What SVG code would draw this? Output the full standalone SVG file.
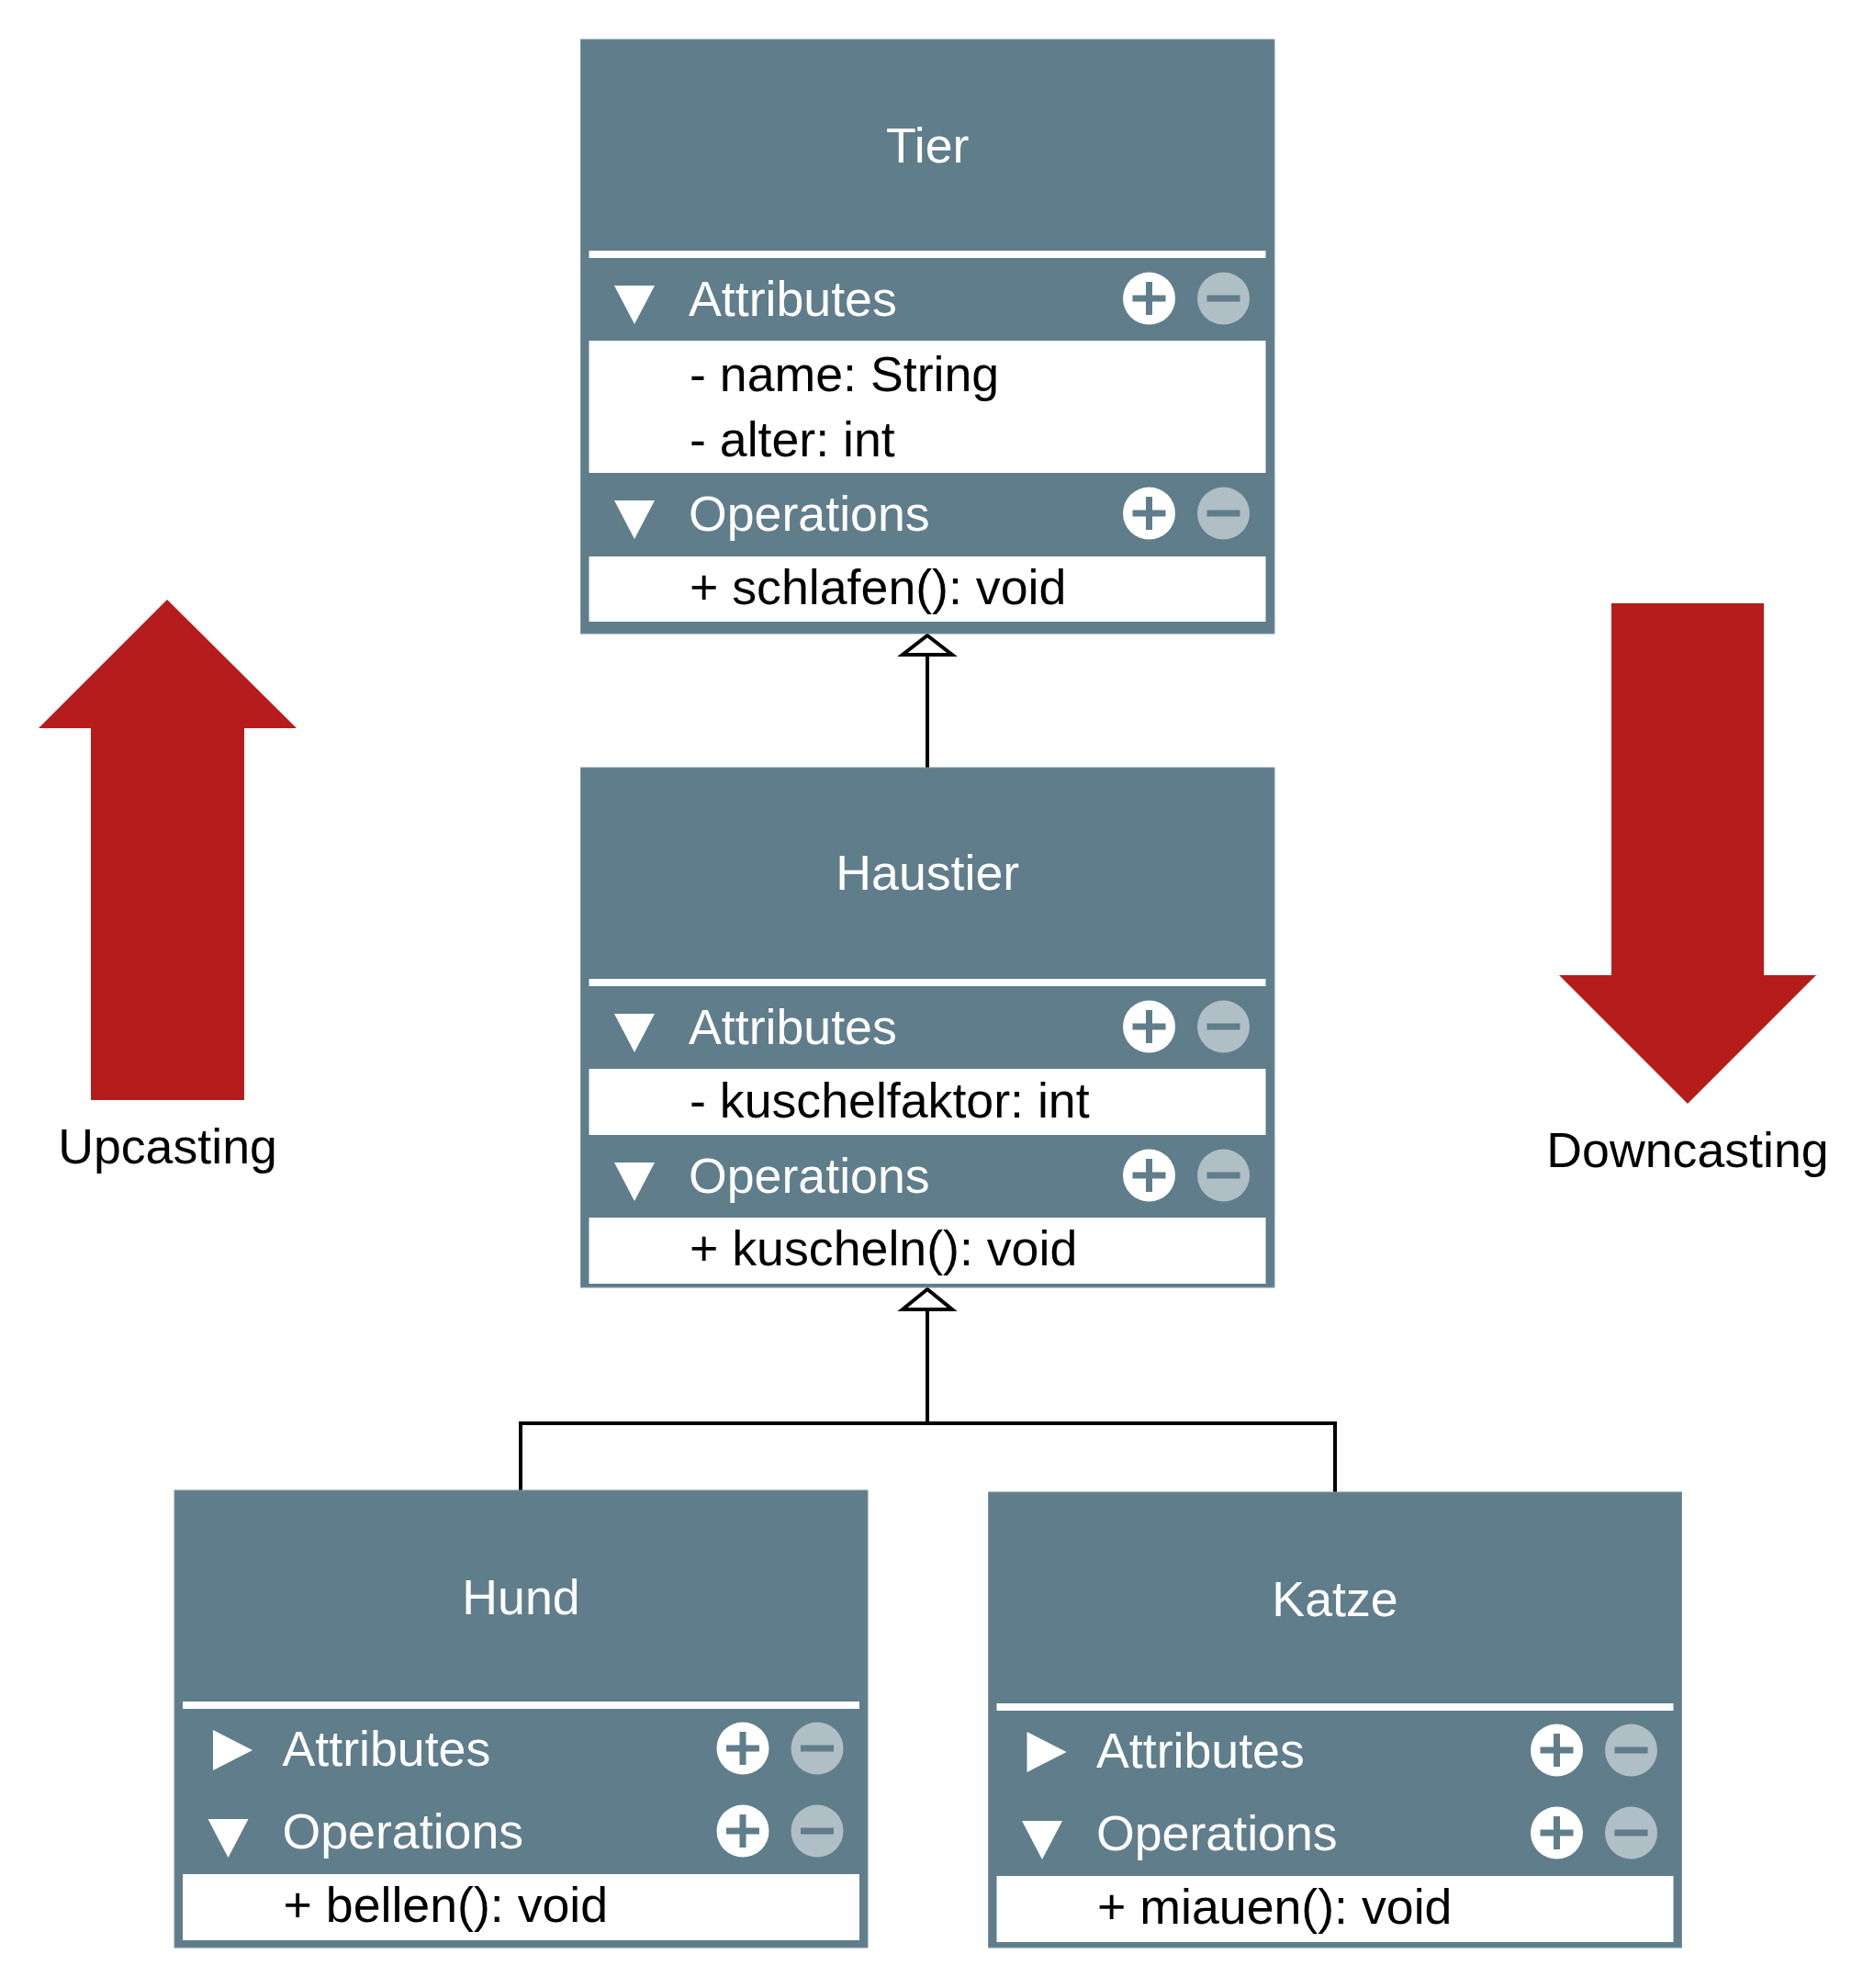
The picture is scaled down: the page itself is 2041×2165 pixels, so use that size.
<svg xmlns="http://www.w3.org/2000/svg" width="2041" height="2165" viewBox="0 0 2041 2165">
  <defs>
    <style>
      .box { fill: #607D8B; stroke: #7b939e; stroke-width: 1; }
      .sep { fill: #FFFFFF; }
      .white { fill: #FFFFFF; }
      .title { font-family: "Liberation Sans", Arial, sans-serif; font-size: 53.7px; fill: #FFFFFF; text-anchor: middle; }
      .sec { font-family: "Liberation Sans", Arial, sans-serif; font-size: 53.7px; fill: #FFFFFF; }
      .item { font-family: "Liberation Sans", Arial, sans-serif; font-size: 53.7px; fill: #000000; }
      .lbl { font-family: "Liberation Sans", Arial, sans-serif; font-size: 53.7px; fill: #000000; text-anchor: middle; }
      .tri { fill: #FFFFFF; }
      .plusc { fill: #FFFFFF; }
      .minusc { fill: #B0BEC5; }
      .bar { fill: #607D8B; }
      .edge { fill: none; stroke: #000000; stroke-width: 4; }
      .head { fill: #FFFFFF; stroke: #000000; stroke-width: 4; stroke-linejoin: miter; }
      .big { fill: #B71C1C; }
    </style>
    <g id="plus">
      <circle cx="0" cy="0" r="28.5" class="plusc"/>
      <rect x="-18" y="-3.5" width="36" height="7" class="bar"/>
      <rect x="-3.5" y="-18" width="7" height="36" class="bar"/>
    </g>
    <g id="minus">
      <circle cx="0" cy="0" r="28.5" class="minusc"/>
      <rect x="-18" y="-3.5" width="36" height="7" class="bar"/>
    </g>
    <polygon id="tdown" points="36.5,-15 80.5,-15 58.5,27" class="tri"/>
    <polygon id="tright" points="42,-22 42,22 85,0" class="tri"/>
  </defs>

  <!-- Upcasting / Downcasting arrows -->
  <g id="upcasting">
    <polygon class="big" points="182,653 323,793 266,793 266,1198 99,1198 99,793 42,793"/>
    <text class="lbl" x="182.5" y="1267">Upcasting</text>
  </g>
  <g id="downcasting">
    <polygon class="big" points="1755,657 1921,657 1921,1062 1978,1062 1838,1202 1698,1062 1755,1062"/>
    <text class="lbl" x="1838" y="1271">Downcasting</text>
  </g>

  <!-- Connectors -->
  <g id="connectors">
    <line class="edge" x1="1010" y1="713" x2="1010" y2="836"/>
    <polygon class="head" points="1010,692 1037,713 983,713"/>
    <polyline class="edge" points="567,1623 567,1550 1454,1550 1454,1625"/>
    <line class="edge" x1="1010" y1="1426" x2="1010" y2="1550"/>
    <polygon class="head" points="1010,1404 1037,1426 983,1426"/>
  </g>

  <!-- Tier -->
  <g id="tier" transform="translate(632.5,43)">
    <rect class="box" x="0" y="0" width="755.5" height="647"/>
    <text class="title" x="377.75" y="134">Tier</text>
    <rect class="sep" x="9" y="230" width="737" height="8"/>
    <use href="#tdown" y="283"/>
    <text class="sec" x="117.5" y="301">Attributes</text>
    <use href="#plus" x="619" y="282"/>
    <use href="#minus" x="700" y="282"/>
    <rect class="white" x="9" y="328" width="737" height="144"/>
    <text class="item" x="118.5" y="383">- name: String</text>
    <text class="item" x="118.5" y="454">- alter: int</text>
    <use href="#tdown" y="517"/>
    <text class="sec" x="117.5" y="535">Operations</text>
    <use href="#plus" x="619" y="516"/>
    <use href="#minus" x="700" y="516"/>
    <rect class="white" x="9" y="563" width="737" height="71"/>
    <text class="item" x="118.5" y="615">+ schlafen(): void</text>
  </g>

  <!-- Haustier -->
  <g id="haustier" transform="translate(632.5,836)">
    <rect class="box" x="0" y="0" width="755.5" height="566"/>
    <text class="title" x="377.75" y="133">Haustier</text>
    <rect class="sep" x="9" y="230" width="737" height="8"/>
    <use href="#tdown" y="283"/>
    <text class="sec" x="117.5" y="301">Attributes</text>
    <use href="#plus" x="619" y="282"/>
    <use href="#minus" x="700" y="282"/>
    <rect class="white" x="9" y="328" width="737" height="72"/>
    <text class="item" x="118.5" y="381">- kuschelfaktor: int</text>
    <use href="#tdown" y="445"/>
    <text class="sec" x="117.5" y="463">Operations</text>
    <use href="#plus" x="619" y="444"/>
    <use href="#minus" x="700" y="444"/>
    <rect class="white" x="9" y="490" width="737" height="72"/>
    <text class="item" x="118.5" y="542">+ kuscheln(): void</text>
  </g>

  <!-- Hund -->
  <g id="hund" transform="translate(190,1623)">
    <rect class="box" x="0" y="0" width="755" height="498"/>
    <text class="title" x="377.5" y="135">Hund</text>
    <rect class="sep" x="9" y="230" width="737" height="8"/>
    <use href="#tright" y="283"/>
    <text class="sec" x="117.5" y="300">Attributes</text>
    <use href="#plus" x="619" y="281"/>
    <use href="#minus" x="700" y="281"/>
    <use href="#tdown" y="373"/>
    <text class="sec" x="117.5" y="390">Operations</text>
    <use href="#plus" x="619" y="371"/>
    <use href="#minus" x="700" y="371"/>
    <rect class="white" x="9" y="418" width="737" height="72"/>
    <text class="item" x="118.5" y="470">+ bellen(): void</text>
  </g>

  <!-- Katze -->
  <g id="katze" transform="translate(1076.5,1625)">
    <rect class="box" x="0" y="0" width="755" height="496"/>
    <text class="title" x="377.5" y="135">Katze</text>
    <rect class="sep" x="9" y="230" width="737" height="8"/>
    <use href="#tright" y="283"/>
    <text class="sec" x="117.5" y="300">Attributes</text>
    <use href="#plus" x="619" y="281"/>
    <use href="#minus" x="700" y="281"/>
    <use href="#tdown" y="373"/>
    <text class="sec" x="117.5" y="390">Operations</text>
    <use href="#plus" x="619" y="371"/>
    <use href="#minus" x="700" y="371"/>
    <rect class="white" x="9" y="418" width="737" height="72"/>
    <text class="item" x="118.5" y="470">+ miauen(): void</text>
  </g>
</svg>
